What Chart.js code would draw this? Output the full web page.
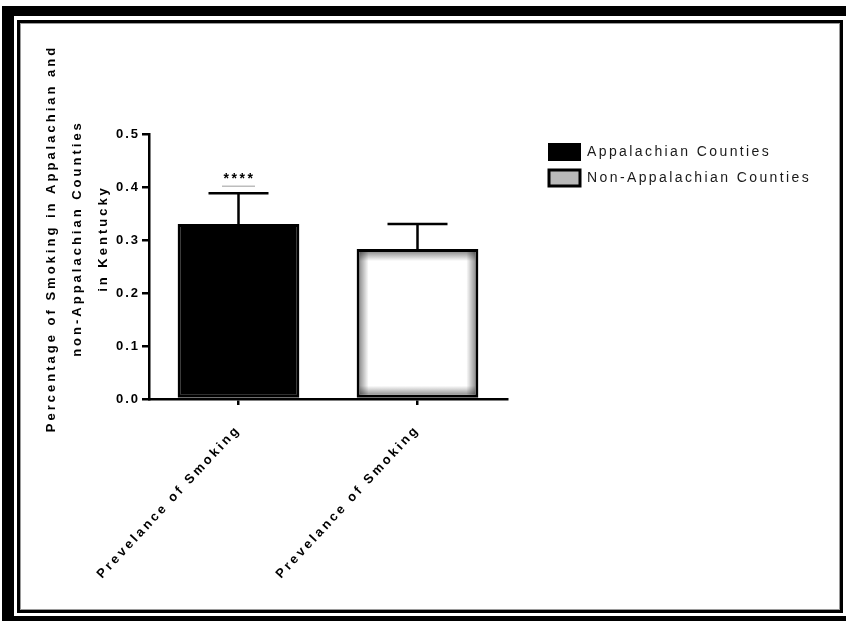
<!DOCTYPE html>
<html><head><meta charset="utf-8">
<script src="https://cdn.jsdelivr.net/npm/chart.js@4"></script>
<style>
html,body{margin:0;padding:0;background:#fff;width:846px;height:621px;overflow:hidden;}
#wrap{position:relative;width:846px;height:621px;}
.f{position:absolute;box-sizing:border-box;}
canvas{position:absolute;left:0;top:0;}
</style></head><body>
<div id="wrap">
<div class="f" style="left:2px;top:6px;width:12px;height:615px;background:#000"></div>
<div class="f" style="left:2px;top:6px;width:844px;height:10px;background:#000"></div>
<div class="f" style="left:2px;top:616px;width:844px;height:5px;background:#000"></div>
<div class="f" style="left:17px;top:20px;width:826px;height:593px;border:3px solid #000"></div>
<div class="f" style="left:20px;top:23px;width:820px;height:587px;border:1px solid #9a9a9a"></div>
<canvas id="c" width="846" height="621"></canvas>
</div>
<script>
const categories = ['Prevelance of Smoking', 'Prevelance of Smoking'];
const seriesNames = ['Appalachian Counties', 'Non-Appalachian Counties'];
const appalachian = [0.33, null];
const nonAppalachian = [null, 0.283];
const errorUpper = [0.388, 0.33];
const significance = ['****', ''];
const yTicks = [0, 0.1, 0.2, 0.3, 0.4, 0.5];
const yTitleLines = ['Percentage of Smoking in Appalachian and', 'non-Appalachian Counties', 'in Kentucky'];

const FONT = '"Liberation Sans", Arial, Helvetica, sans-serif';
Chart.defaults.font.family = FONT;
Chart.defaults.color = '#000';
const LS = '2.4px';
const LEGEND_W = 280;

function withSpacing(obj, method, spacing) {
  if (obj['_ls_' + method]) return;
  const orig = obj[method];
  obj[method] = function (...args) {
    const ctx = this.ctx;
    const prev = ctx.letterSpacing;
    ctx.letterSpacing = spacing;
    const r = orig.apply(this, args);
    ctx.letterSpacing = prev;
    return r;
  };
  obj['_ls_' + method] = true;
}

const spacingPlugin = {
  id: 'spacing',
  beforeUpdate(c) { c.ctx.letterSpacing = LS; },
  beforeLayout(c) {
    c.ctx.letterSpacing = LS;
    const lg = c.legend;
    if (lg && !lg._wPatched) {
      const origFit = lg.fit;
      lg.fit = function () { origFit.call(this); if (!this.isHorizontal()) this.width = LEGEND_W; };
      lg._wPatched = true;
    }
  },
  beforeDraw(c) {
    c.ctx.letterSpacing = LS;
    withSpacing(c.scales.y, 'drawLabels', '2px');
    withSpacing(c.scales.x, 'drawLabels', '2.9px');
  }
};

const shadePlugin = {
  id: 'shade',
  afterDatasetsDraw(c) {
    const ctx = c.ctx;
    const meta = c.getDatasetMeta(1);
    meta.data.forEach((bar, i) => {
      if (nonAppalachian[i] == null) return;
      const p = bar.getProps(['x', 'y', 'base', 'width'], true);
      const bw = 3, d = 9;
      const L = p.x - p.width / 2 + bw, R = p.x + p.width / 2 - bw, T = p.y + bw, B = p.base - bw;
      ctx.save();
      const dark = 'rgba(0,0,0,0.42)', clear = 'rgba(0,0,0,0)';
      let g = ctx.createLinearGradient(L, 0, L + d, 0); g.addColorStop(0, dark); g.addColorStop(1, clear);
      ctx.fillStyle = g; ctx.fillRect(L, T, d, B - T);
      g = ctx.createLinearGradient(R, 0, R - d, 0); g.addColorStop(0, dark); g.addColorStop(1, clear);
      ctx.fillStyle = g; ctx.fillRect(R - d, T, d, B - T);
      g = ctx.createLinearGradient(0, T, 0, T + d); g.addColorStop(0, dark); g.addColorStop(1, clear);
      ctx.fillStyle = g; ctx.fillRect(L, T, R - L, d);
      g = ctx.createLinearGradient(0, B, 0, B - d); g.addColorStop(0, dark); g.addColorStop(1, clear);
      ctx.fillStyle = g; ctx.fillRect(L, B - d, R - L, d);
      ctx.restore();
    });
  }
};

const errorPlugin = {
  id: 'errors',
  afterDatasetsDraw(c) {
    const ctx = c.ctx, ys = c.scales.y;
    ctx.save();
    ctx.strokeStyle = '#000';
    ctx.lineWidth = 2.5;
    c.data.datasets.forEach((ds, di) => {
      const meta = c.getDatasetMeta(di);
      ds.data.forEach((v, i) => {
        if (v == null) return;
        const x = meta.data[i].x;
        const yBar = ys.getPixelForValue(v);
        const yTop = ys.getPixelForValue(errorUpper[i]);
        ctx.beginPath();
        ctx.moveTo(x, yBar); ctx.lineTo(x, yTop);
        ctx.moveTo(x - 30, yTop); ctx.lineTo(x + 30, yTop);
        ctx.stroke();
        if (significance[i]) {
          ctx.save();
          ctx.strokeStyle = '#bdbdbd'; ctx.lineWidth = 1.5;
          ctx.beginPath(); ctx.moveTo(x - 16.5, yTop - 7); ctx.lineTo(x + 16.5, yTop - 7); ctx.stroke();
          ctx.letterSpacing = '2.5px';
          ctx.fillStyle = '#000';
          ctx.font = 'bold 14px ' + FONT;
          ctx.textAlign = 'center';
          ctx.textBaseline = 'alphabetic';
          ctx.fillText(significance[i], x + 1, yTop - 10);
          ctx.restore();
        }
      });
    });
    ctx.restore();
  }
};

const yTitlePlugin = {
  id: 'yTitle',
  afterDraw(c) {
    const ctx = c.ctx, a = c.chartArea;
    ctx.save();
    ctx.letterSpacing = '3px';
    ctx.font = 'bold 13px ' + FONT;
    ctx.fillStyle = '#000';
    ctx.textAlign = 'center';
    ctx.textBaseline = 'middle';
    const cy = a.top + 106;
    yTitleLines.forEach((t, i) => {
      ctx.save();
      ctx.translate(a.left - 98 + i * 26.3, cy);
      ctx.rotate(-Math.PI / 2);
      ctx.fillText(t, 1.5, 0);
      ctx.restore();
    });
    ctx.restore();
  }
};

new Chart(document.getElementById('c'), {
  type: 'bar',
  data: {
    labels: categories,
    datasets: [
      { label: seriesNames[0], data: appalachian, backgroundColor: '#000', borderColor: '#000', borderWidth: 3, borderSkipped: false },
      { label: seriesNames[1], data: nonAppalachian, backgroundColor: '#fff', borderColor: '#000', borderWidth: 3, borderSkipped: false }
    ]
  },
  options: {
    responsive: false,
    animation: false,
    skipNull: true,
    barPercentage: 0.68,
    categoryPercentage: 1,
    layout: { padding: { left: 0, top: 134, right: 27, bottom: 22 } },
    plugins: {
      tooltip: { enabled: false },
      legend: {
        position: 'right',
        align: 'start',
        labels: {
          boxWidth: 31, boxHeight: 16, padding: 10, color: '#1a1a1a',
          font: { size: 14 },
          generateLabels(chart) {
            const items = Chart.defaults.plugins.legend.labels.generateLabels(chart);
            items[0].lineWidth = 2;
            items[1].fillStyle = '#b9b9b9';
            items[1].lineWidth = 3;
            return items;
          }
        }
      }
    },
    scales: {
      x: {
        offset: true,
        grid: { display: true, offset: false, drawOnChartArea: false, drawTicks: true, tickLength: 6, color: '#000', lineWidth: 2.5 },
        border: { display: true, color: '#000', width: 2.5 },
        ticks: { autoSkip: false, minRotation: 47, maxRotation: 47, padding: 17, color: '#000', font: { size: 13, weight: 'bold' } },
        afterFit(s) { s.height = 200; }
      },
      y: {
        min: 0, max: 0.5,
        afterBuildTicks(s) { s.ticks = yTicks.map(v => ({ value: v })); },
        grid: { drawOnChartArea: false, drawTicks: true, tickLength: 7, color: '#000', lineWidth: 2.5 },
        border: { display: true, color: '#000', width: 2.5 },
        ticks: { padding: 2, color: '#000', font: { size: 13, weight: 'bold' }, callback: v => Number(v).toFixed(1) },
        afterFit(s) { s.width = 149; }
      },
      pad: {
        type: 'linear', position: 'right', display: true,
        grid: { display: false }, border: { display: false }, ticks: { display: false },
        afterFit(s) { s.width = 32; }
      }
    }
  },
  plugins: [spacingPlugin, shadePlugin, errorPlugin, yTitlePlugin]
});
</script>
</body></html>
